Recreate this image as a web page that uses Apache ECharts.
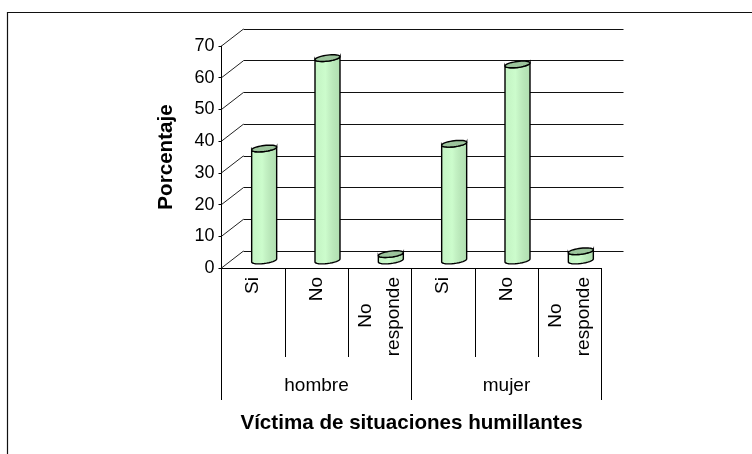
<!DOCTYPE html>
<html><head><meta charset="utf-8">
<style>html,body{margin:0;padding:0;background:#fff}#c{width:752px;height:454px}</style>
<script src="https://cdn.jsdelivr.net/npm/echarts@6/dist/echarts.min.js"></script>
</head><body><div id="c"></div>
<script>
const categories = ['Si', 'No', 'No\nresponde', 'Si', 'No', 'No\nresponde'];
const groups = ['hombre', 'mujer'];
const values = [35, 63.5, 1.7, 36.5, 61.5, 2.6];
const yTicks = [0, 10, 20, 30, 40, 50, 60, 70];
const yName = 'Porcentaje';
const xName = 'Víctima de situaciones humillantes';

const F = '"Liberation Sans", Arial, sans-serif';
const DX = 22, DY = -17;
const chart = echarts.init(document.getElementById('c'), null, {renderer: 'canvas'});
const barGrad = new echarts.graphic.LinearGradient(0, 0, 1, 0, [
  {offset: 0, color: '#c4f4c4'}, {offset: .25, color: '#c8f8c8'}, {offset: .42, color: '#ccfccc'},
  {offset: .55, color: '#c4f2c4'}, {offset: .72, color: '#bae8ba'}, {offset: 1, color: '#b0deb0'}
]);
function ell(cx, cy, rx, ry) {
  const p = [];
  for (let i = 0; i < 40; i++) {
    const a = i / 40 * Math.PI * 2, x = rx * Math.cos(a), y = ry * Math.sin(a);
    p.push([cx + x, cy + y - x * 0.12]);
  }
  return p;
}
function renderBar(params, api) {
  const c = api.coord([api.value(0), api.value(1)]);
  const b = api.coord([api.value(0), 0]);
  const cx = c[0] + DX / 2, rx = 12.5, ry = 3;
  const topY = c[1] + DY / 2, botY = b[1] + DY / 2 + 1;
  const side = [];
  for (let i = 0; i <= 16; i++) {
    const a = Math.PI * i / 16, x = rx * Math.cos(a);
    side.push([cx + x, botY + ry * Math.sin(a) - x * 0.12]);
  }
  for (let i = 0; i <= 16; i++) {
    const a = Math.PI * i / 16, x = -rx * Math.cos(a);
    side.push([cx + x, topY + ry * Math.sin(a) - x * 0.12]);
  }
  return {type: 'group', children: [
    {type: 'polygon', shape: {points: side}, style: {fill: barGrad, stroke: '#000', lineWidth: 1.4}},
    {type: 'polygon', shape: {points: ell(cx, topY, rx, ry)}, style: {fill: '#9cc49c', stroke: '#000', lineWidth: 1.4}}
  ]};
}
function renderDiag(params, api) {
  const c = api.coord([0, api.value(0)]);
  const x0 = c[0] - api.size([1, 0])[0] / 2;
  return {type: 'line', shape: {x1: x0, y1: c[1], x2: x0 + DX, y2: c[1] + DY},
    style: {stroke: '#222', lineWidth: 1}};
}
const option = {
  animation: false,
  backgroundColor: '#fff',
  textStyle: {fontFamily: F},
  graphic: [{type: 'polyline', silent: true, z: 0,
    shape: {points: [[7.5, 454], [7.5, 12.5], [752, 12.5]]},
    style: {fill: null, stroke: '#111', lineWidth: 1.2}}],
  grid: [
    {left: 221.5, top: 46, width: 380, height: 222},
    {left: 243.5, top: 29, width: 380, height: 222},
    {left: 221.5, top: 46, width: 380, height: 222}
  ],
  xAxis: [
    {type: 'category', gridIndex: 0, data: categories, position: 'bottom',
      axisLine: {lineStyle: {color: '#000', width: 1}},
      axisTick: {show: true, alignWithLabel: false, length: 89, lineStyle: {color: '#000'}},
      axisLabel: {rotate: 90, interval: 0, color: '#000', fontSize: 19, lineHeight: 28, fontFamily: F,
        margin: 9, align: 'right', verticalAlign: 'middle',
        formatter: v => v.replace('No\n', 'No     \n')}},
    {type: 'category', gridIndex: 1, data: categories, show: false},
    {type: 'category', gridIndex: 2, data: groups, position: 'bottom',
      axisLine: {show: false},
      axisTick: {show: true, alignWithLabel: false, length: 132, lineStyle: {color: '#000'}},
      axisLabel: {interval: 0, color: '#000', fontSize: 19, fontFamily: F, margin: 108},
      name: xName, nameLocation: 'middle', nameGap: 145,
      nameTextStyle: {color: '#000', fontSize: 20.6, fontWeight: 'bold', fontFamily: F}}
  ],
  yAxis: [
    {type: 'value', gridIndex: 0, min: 0, max: 70, interval: 10,
      axisLine: {show: true, lineStyle: {color: '#000'}},
      axisTick: {show: true, length: 3, lineStyle: {color: '#000'}},
      splitLine: {show: false},
      axisLabel: {color: '#000', fontSize: 18, fontFamily: F, margin: 7, padding: [2, 0, 0, 0]},
      name: yName, nameLocation: 'middle', nameGap: 45,
      nameTextStyle: {color: '#000', fontSize: 20.6, fontWeight: 'bold', fontFamily: F}},
    {type: 'value', gridIndex: 1, min: 0, max: 70, interval: 10,
      axisLine: {show: false}, axisTick: {show: false}, axisLabel: {show: false},
      splitLine: {show: true, lineStyle: {color: '#111', width: 1}}},
    {type: 'value', gridIndex: 2, min: 0, max: 70, interval: 10, show: false}
  ],
  series: [
    {type: 'custom', xAxisIndex: 0, yAxisIndex: 0, coordinateSystem: 'cartesian2d',
      data: yTicks.map(v => [v]), renderItem: renderDiag, z: 1, silent: true},
    {type: 'custom', xAxisIndex: 0, yAxisIndex: 0, coordinateSystem: 'cartesian2d',
      data: values.map((v, i) => [i, v]), encode: {x: 0, y: 1}, renderItem: renderBar, z: 3, silent: true}
  ]
};
chart.setOption(option);
</script></body></html>
